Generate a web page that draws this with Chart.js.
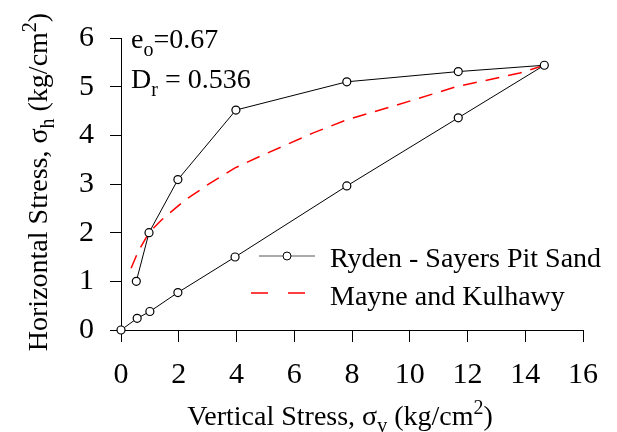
<!DOCTYPE html>
<html>
<head>
<meta charset="utf-8">
<script src="https://cdn.jsdelivr.net/npm/chart.js@4"></script>
<style>
  html, body { margin: 0; padding: 0; background: #fff; }
  #c { display: block; }
</style>
</head>
<body>
<canvas id="c" width="617" height="432"></canvas>
<script>
// ---- Data ----
const rydenSigmaV = [0, 0.56, 1.0, 1.97, 3.95, 7.82, 11.68, 14.66, 11.68, 7.82, 3.98, 1.97, 0.97, 0.53];
const rydenSigmaH = [0, 0.24, 0.38, 0.77, 1.50, 2.96, 4.36, 5.44, 5.31, 5.10, 4.52, 3.09, 2.00, 1.00];
const mayneSigmaV = [0.35, 0.60, 0.97, 1.42, 2.22, 3.09, 3.95, 4.82, 5.74, 6.66, 7.82, 9.43, 11.62, 13.81, 14.66];
const mayneSigmaH = [1.27, 1.62, 2.00, 2.27, 2.67, 3.02, 3.33, 3.57, 3.81, 4.05, 4.32, 4.60, 5.00, 5.28, 5.44];
const xTickValues = [0, 2, 4, 6, 8, 10, 12, 14, 16];
const yTickValues = [0, 1, 2, 3, 4, 5, 6];
const seriesNames = ['Ryden - Sayers Pit Sand', 'Mayne and Kulhawy'];

const FONT = '"Liberation Serif", "Times New Roman", serif';
const toPts = (xs, ys) => xs.map((x, i) => ({ x: x, y: ys[i] }));

// rich text helper: parts = [{t, size, dy}]
function drawRich(ctx, parts, x, y, align) {
  let total = 0;
  parts.forEach(p => { ctx.font = p.size + 'px ' + FONT; total += ctx.measureText(p.t).width; });
  let cx = align === 'center' ? x - total / 2 : x;
  ctx.textAlign = 'left';
  ctx.textBaseline = 'alphabetic';
  parts.forEach(p => {
    ctx.font = p.size + 'px ' + FONT;
    ctx.fillText(p.t, cx, y + (p.dy || 0));
    cx += ctx.measureText(p.t).width;
  });
}

const decorPlugin = {
  id: 'decor',
  afterDraw(chart) {
    const ctx = chart.ctx;
    ctx.save();
    ctx.fillStyle = '#000';
    // annotations
    drawRich(ctx, [{t: 'e', size: 28}, {t: 'o', size: 20, dy: 8}, {t: '=0.67', size: 28}], 131, 48, 'left');
    drawRich(ctx, [{t: 'D', size: 28}, {t: 'r', size: 20, dy: 8}, {t: ' = 0.536', size: 28}], 131, 88, 'left');
    // x title
    drawRich(ctx, [{t: 'Vertical Stress, σ', size: 28}, {t: 'v', size: 20, dy: 7}, {t: ' (kg/cm', size: 28}, {t: '2', size: 20, dy: -11}, {t: ')', size: 28}], 340, 425, 'center');
    // y title
    ctx.save();
    ctx.translate(47, 182);
    ctx.rotate(-Math.PI / 2);
    drawRich(ctx, [{t: 'Horizontal Stress, σ', size: 28}, {t: 'h', size: 20, dy: 7}, {t: ' (kg/cm', size: 28}, {t: '2', size: 20, dy: -11}, {t: ')', size: 28}], 0, 0, 'center');
    ctx.restore();
    // legend
    ctx.strokeStyle = '#555';
    ctx.lineWidth = 1;
    ctx.beginPath(); ctx.moveTo(259, 256); ctx.lineTo(315, 256); ctx.stroke();
    ctx.strokeStyle = '#000';
    ctx.fillStyle = '#fff';
    ctx.beginPath(); ctx.arc(287, 256, 4, 0, Math.PI * 2); ctx.fill(); ctx.stroke();
    ctx.strokeStyle = '#ff0000';
    ctx.lineWidth = 1.5;
    ctx.setLineDash([17, 20]);
    ctx.beginPath(); ctx.moveTo(251, 293); ctx.lineTo(316, 293); ctx.stroke();
    ctx.setLineDash([]);
    ctx.fillStyle = '#000';
    drawRich(ctx, [{t: seriesNames[0], size: 28}], 330, 267, 'left');
    drawRich(ctx, [{t: seriesNames[1], size: 28}], 330, 305, 'left');
    ctx.restore();
  }
};

new Chart(document.getElementById('c'), {
  type: 'scatter',
  data: {
    datasets: [
      {
        label: seriesNames[0],
        data: toPts(rydenSigmaV, rydenSigmaH),
        showLine: true,
        borderColor: '#000',
        borderWidth: 1,
        pointRadius: 4,
        pointHoverRadius: 4,
        pointBorderWidth: 1.2,
        pointBorderColor: '#000',
        pointBackgroundColor: '#fff',
        clip: false,
        order: 1
      },
      {
        label: seriesNames[1],
        data: toPts(mayneSigmaV, mayneSigmaH),
        showLine: true,
        borderColor: '#ff0000',
        borderWidth: 1.5,
        borderDash: [14, 9],
        pointRadius: 0,
        clip: false,
        order: 2
      }
    ]
  },
  options: {
    responsive: false,
    animation: false,
    devicePixelRatio: 1,
    layout: { padding: { left: 0, right: 34, top: 38, bottom: 0 } },
    plugins: { legend: { display: false }, tooltip: { enabled: false } },
    scales: {
      x: {
        type: 'linear', min: 0, max: 16, z: 1,
        afterBuildTicks: s => { s.ticks = xTickValues.map(v => ({ value: v })); },
        afterFit: s => { s.height = 102; },
        ticks: { color: '#000', font: { family: FONT, size: 30 }, padding: 15, maxRotation: 0 },
        grid: { display: true, drawOnChartArea: false, drawTicks: true, tickLength: 12, color: '#000', lineWidth: 1 },
        border: { display: true, color: '#000', width: 1 }
      },
      y: {
        type: 'linear', min: 0, max: 6, z: 1,
        afterBuildTicks: s => {
          const t = [];
          for (let i = 0; i < yTickValues.length; i++) {
            t.push({ value: yTickValues[i] });
            if (i < yTickValues.length - 1) t.push({ value: (yTickValues[i] + yTickValues[i + 1]) / 2 });
          }
          s.ticks = t;
        },
        afterFit: s => { s.width = 121; },
        ticks: {
          color: '#000', font: { family: FONT, size: 30 }, padding: 16,
          callback: v => (Number.isInteger(v) ? String(v) : '')
        },
        grid: { display: true, drawOnChartArea: false, drawTicks: true, tickLength: 11, color: '#000', lineWidth: 1 },
        border: { display: true, color: '#000', width: 1 }
      }
    }
  },
  plugins: [decorPlugin]
});
</script>
</body>
</html>
